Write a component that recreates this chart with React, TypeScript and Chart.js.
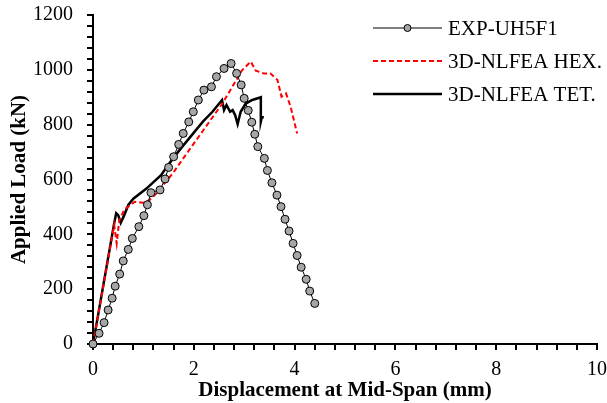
import React, { useEffect, useRef } from "react";
import { Chart, registerables } from "chart.js";

Chart.register(...registerables);

// ---- Data ----
const expX = [0, 0.12, 0.22, 0.30, 0.38, 0.44, 0.53, 0.60, 0.70, 0.78, 0.91, 1.01, 1.08, 1.15, 1.33, 1.43, 1.50, 1.60, 1.70, 1.79, 1.90, 1.99, 2.09, 2.20, 2.35, 2.45, 2.60, 2.74, 2.85, 2.94, 3.00, 3.08, 3.15, 3.21, 3.27, 3.40, 3.46, 3.55, 3.65, 3.73, 3.81, 3.89, 3.97, 4.05, 4.13, 4.23, 4.30, 4.40];
const expY = [0, 39, 78, 124, 167, 211, 255, 303, 345, 385, 428, 468, 508, 552, 562, 602, 644, 683, 728, 768, 810, 847, 890, 926, 938, 975, 1005, 1023, 987, 945, 896, 852, 809, 765, 720, 677, 633, 588, 543, 501, 455, 412, 367, 323, 280, 236, 193, 148];

const hexX = [0, 0.42, 0.47, 0.52, 0.62, 0.83, 0.99, 1.12, 1.26, 1.58, 1.91, 2.57, 2.96, 3.13, 3.23, 3.39, 3.52, 3.66, 3.74, 3.83, 3.92, 4.05];
const hexY = [0, 434, 367, 450, 490, 519, 515, 525, 550, 622, 708, 878, 999, 1030, 997, 987, 987, 963, 902, 914, 866, 768];

const tetX = [0, 0.42, 0.46, 0.50, 0.55, 0.62, 0.70, 0.80, 1.06, 1.35, 1.49, 1.72, 2.18, 2.37, 2.56, 2.60, 2.65, 2.72, 2.77, 2.82, 2.87, 2.93, 3.03, 3.16, 3.33, 3.33, 3.35, 3.39];
const tetY = [0, 440, 477, 470, 442, 470, 507, 530, 567, 616, 653, 708, 811, 847, 890, 853, 872, 847, 853, 835, 802, 847, 877, 890, 900, 811, 827, 827];

const seriesNames = ["EXP-UH5F1", "3D-NLFEA HEX.", "3D-NLFEA TET."];

// axis ticks: minor step / labelled major step
const xMinorStep = 0.4;
const xMajorStep = 2;
const yMinorStep = 40;
const yMajorStep = 200;

const xTitle = "Displacement at Mid-Span (mm)";
const yTitle = "Applied Load (kN)";

const FONT = "'Liberation Serif', 'Times New Roman', serif";

const toPts = (xs: number[], ys: number[]) => xs.map((x, i) => ({ x, y: ys[i] }));

const isMajor = (v: number, step: number) => Math.abs(v / step - Math.round(v / step)) < 1e-6;

const customLegend = {
  id: "customLegend",
  afterDraw(chart: any) {
    const ctx = chart.ctx;
    const x0 = 373;
    const x1 = 442;
    const rowsY = [28, 61, 94];
    ctx.save();
    chart.data.datasets.forEach((ds: any, i: number) => {
      const y = rowsY[i];
      ctx.beginPath();
      ctx.strokeStyle = ds.borderColor;
      ctx.lineWidth = ds.borderWidth;
      ctx.setLineDash(ds.borderDash || []);
      ctx.moveTo(x0, y);
      ctx.lineTo(x1, y);
      ctx.stroke();
      ctx.setLineDash([]);
      if (ds.pointRadius > 0) {
        ctx.beginPath();
        ctx.arc((x0 + x1) / 2, y, 3.5, 0, Math.PI * 2);
        ctx.fillStyle = ds.pointBackgroundColor;
        ctx.fill();
        ctx.lineWidth = 1;
        ctx.strokeStyle = ds.pointBorderColor;
        ctx.stroke();
      }
      ctx.fillStyle = "#000";
      ctx.font = `21px ${FONT}`;
      ctx.textAlign = "left";
      ctx.textBaseline = "middle";
      ctx.fillText(ds.label, 448, y + 1);
    });
    ctx.restore();
  },
};

export default function App() {
  const ref = useRef<HTMLCanvasElement | null>(null);

  useEffect(() => {
    document.body.style.margin = "0";
    const canvas = ref.current;
    if (!canvas) return;
    const chart = new Chart(canvas, {
      type: "scatter",
      data: {
        datasets: [
          {
            label: seriesNames[0],
            data: toPts(expX, expY),
            showLine: true,
            borderColor: "#000",
            borderWidth: 1,
            pointRadius: 4,
            pointBackgroundColor: "#a6a6a6",
            pointBorderColor: "#000",
            pointBorderWidth: 1,
            clip: false,
          } as any,
          {
            label: seriesNames[1],
            data: toPts(hexX, hexY),
            showLine: true,
            borderColor: "#ff0000",
            borderWidth: 2,
            borderDash: [5, 3],
            pointRadius: 0,
            clip: false,
          },
          {
            label: seriesNames[2],
            data: toPts(tetX, tetY),
            showLine: true,
            borderColor: "#000",
            borderWidth: 2.5,
            pointRadius: 0,
            clip: false,
          },
        ],
      },
      options: {
        animation: false,
        responsive: true,
        maintainAspectRatio: false,
        layout: { padding: { top: 15, right: 10, left: 0, bottom: 0 } },
        plugins: {
          legend: { display: false },
          tooltip: { enabled: false },
        },
        scales: {
          x: {
            type: "linear",
            min: 0,
            max: 10,
            ticks: {
              stepSize: xMinorStep,
              autoSkip: false,
              color: "#000",
              font: { family: FONT, size: 20 },
              padding: 8,
              maxRotation: 0,
              minRotation: 0,
              callback: (v: any) => (isMajor(Number(v), xMajorStep) ? String(Math.round(Number(v))) : ""),
            },
            grid: {
              display: true,
              drawOnChartArea: false,
              drawTicks: true,
              lineWidth: 2,
              tickLength: 6,
              tickColor: "#000",
              tickWidth: 2,
            },
            border: { display: true, color: "#000", width: 2 },
            title: {
              display: true,
              text: xTitle,
              color: "#000",
              font: { family: FONT, size: 21, weight: "bold" },
              padding: { top: 0, bottom: 0 },
            },
            afterFit: (s: any) => {
              s.height = 59;
              s.paddingLeft = 0;
              s.paddingRight = 0;
            },
          },
          y: {
            type: "linear",
            min: 0,
            max: 1200,
            ticks: {
              stepSize: yMinorStep,
              autoSkip: false,
              color: "#000",
              font: { family: FONT, size: 20 },
              padding: 14,
              callback: (v: any) => (isMajor(Number(v), yMajorStep) ? String(Math.round(Number(v))) : ""),
            },
            grid: {
              display: true,
              drawOnChartArea: false,
              drawTicks: true,
              lineWidth: 2,
              tickLength: 6,
              tickColor: "#000",
              tickWidth: 2,
            },
            border: { display: true, color: "#000", width: 2 },
            title: {
              display: true,
              text: yTitle,
              color: "#000",
              font: { family: FONT, size: 21, weight: "bold" },
              padding: { top: 7, bottom: 0 },
            },
            afterFit: (s: any) => {
              s.width = 93;
              s.paddingTop = 0;
              s.paddingBottom = 0;
            },
          },
        },
      },
      plugins: [customLegend],
    });
    return () => chart.destroy();
  }, []);

  return (
    <div style={{ position: "relative", width: 607, height: 403 }}>
      <canvas ref={ref} />
    </div>
  );
}
